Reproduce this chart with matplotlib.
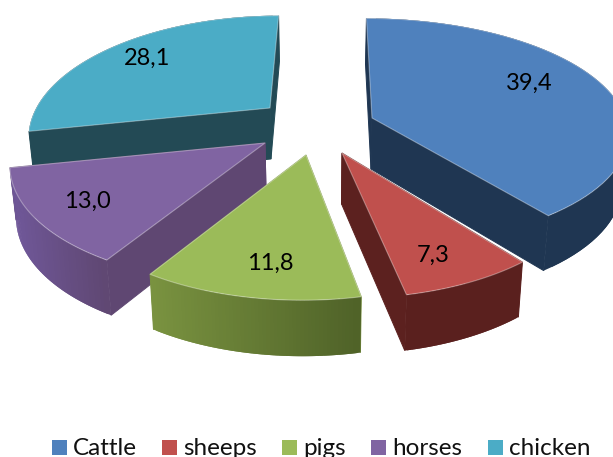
import numpy as np
import matplotlib
matplotlib.use('Agg')
import matplotlib.pyplot as plt
from matplotlib.patches import Polygon, Rectangle
from matplotlib.colors import to_rgb

categories = ['Cattle', 'sheeps', 'pigs', 'horses', 'chicken']
values = [39.4, 7.3, 11.8, 13.0, 28.1]

colors = ['#4f81bd', '#c0504d', '#9bbb59', '#8064a2', '#4bacc6']
side_colors = ['#1f3652', '#5c211f', '#7a9340', '#5f4772', '#234a55']
rim_left = ['#1f3652', '#5a201e', '#7a9340', '#70589a', '#234a55']
rim_right = ['#1f3652', '#5a201e', '#4f6228', '#5f4772', '#234a55']

# layout of the exploded pie, pixels
apex = [(372, 118), (342, 153), (306, 155), (265, 143), (270, 108)]
rx_scale = [1.03, 0.98, 0.98, 1.02, 0.95]
ry_scale = [0.97, 1.0, 1.0, 1.04, 0.97]
persp = [0.12, 0.208, 0.208, 0.15, 0.208]
label_pos = [(529, 83), (433, 255), (270, 263), (87, 201), (147, 58)]
legend_x = [52, 162, 282, 371, 488]
draw_order = [4, 0, 3, 1, 2]

R = 246
B = 115
CX = 320


def project(i, t):
    u = np.sin(t)
    v = -np.cos(t)
    w = 1 / (1 - persp[i] * v)
    x = CX + (apex[i][0] - CX + R * rx_scale[i] * u) * w
    y = apex[i][1] + B * ry_scale[i] * v * w
    return x, y


def depth(t):
    return 51 + 5 * (-np.cos(t))


def lower(x):
    # bottom edge leans a little towards the middle
    return x + (CX - x) * 0.02


fig = plt.figure(figsize=(6.13, 4.57), dpi=100)
ax = fig.add_axes([0, 0, 1, 1])
ax.set_xlim(0, 613)
ax.set_ylim(457, 0)
ax.axis('off')

fracs = np.array(values) / sum(values)
ends = np.cumsum(fracs) * 2 * np.pi
starts = ends - fracs * 2 * np.pi

for i in draw_order:
    ts = np.linspace(starts[i], ends[i], 60)
    xs, ys = project(i, ts)
    ds = depth(ts)
    ax0, ay0 = apex[i]
    d0 = 51

    # radial walls
    for x, y, d in ((xs[0], ys[0], ds[0]), (xs[-1], ys[-1], ds[-1])):
        wall = [(ax0, ay0), (x, y), (lower(x), y + d), (lower(ax0), ay0 + d0)]
        ax.add_patch(Polygon(wall, closed=True, fc=side_colors[i], ec=side_colors[i], lw=0.7))

    # outer wall, shaded from left to right
    left = np.array(to_rgb(rim_left[i]))
    right = np.array(to_rgb(rim_right[i]))
    xmin, xmax = xs.min(), xs.max()
    order = range(len(ts) - 2) if xs[0] < xs[-1] else range(len(ts) - 3, -1, -1)
    for j in order:
        f = (xs[j + 1] - xmin) / (xmax - xmin)
        c = left + (right - left) * f
        quad = [(xs[j], ys[j]), (xs[j + 1], ys[j + 1]), (xs[j + 2], ys[j + 2]),
                (lower(xs[j + 2]), ys[j + 2] + ds[j + 2]),
                (lower(xs[j + 1]), ys[j + 1] + ds[j + 1]),
                (lower(xs[j]), ys[j] + ds[j])]
        ax.add_patch(Polygon(quad, closed=True, fc=c, ec='none'))

    # top face
    top = [(ax0, ay0)] + list(zip(xs, ys))
    ax.add_patch(Polygon(top, closed=True, fc=colors[i], ec=(1, 1, 1, 0.35), lw=0.8, joinstyle='round'))

font = ['Lato', 'DejaVu Sans']
for i in range(len(values)):
    lx, ly = label_pos[i]
    ax.text(lx, ly, f'{values[i]:.1f}'.replace('.', ','), ha='center', va='center',
            fontsize=17, family=font, color='black')

for i in range(len(categories)):
    ax.add_patch(Rectangle((legend_x[i], 440), 15, 15, fc=colors[i], ec='none'))
    ax.text(legend_x[i] + 21, 455, categories[i], ha='left', va='baseline',
            fontsize=17.5, family=font, color='#111111')

fig.savefig('out.png', dpi=100)
